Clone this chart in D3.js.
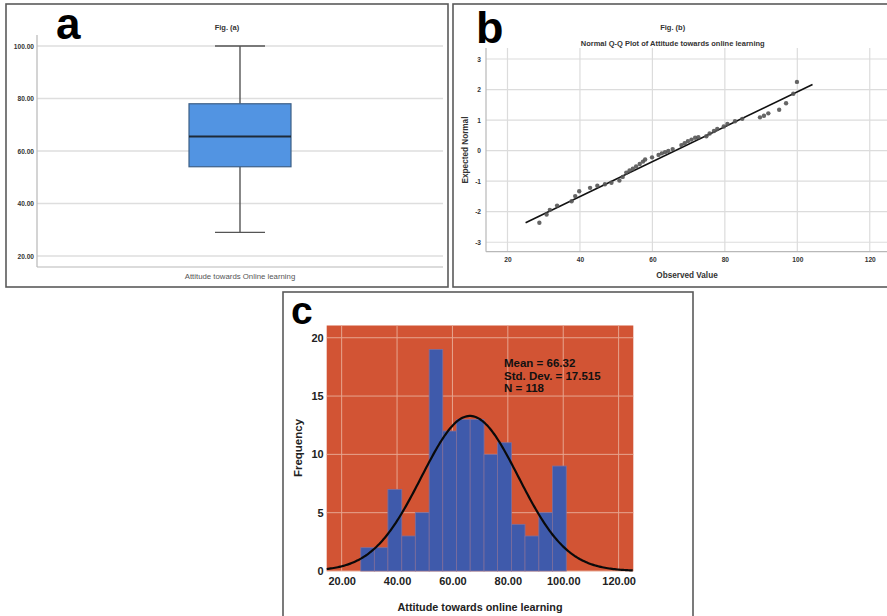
<!DOCTYPE html>
<html>
<head>
<meta charset="utf-8">
<script src="https://cdn.jsdelivr.net/npm/d3@7"></script>
<style>
  body { margin: 0; background: #fff; }
  text { font-family: "Liberation Sans", Arial, sans-serif; }
</style>
</head>
<body>
<div class="chart"></div>
<script>
// ---- data ----
// (a) box plot
const boxCategory = ["Attitude towards Online learning"]
const boxValues = [29, 54, 65.5, 78, 100]   // min, q1, median, q3, max
const boxTicks = [20, 40, 60, 80, 100]

// (b) normal Q-Q plot
const qqObserved = [28.8, 30.8, 31.7, 33.7, 37.7, 38.7, 39.8, 42.8, 44.8, 46.9, 48.7, 50.9, 51.8,
  52.8, 53.7, 54.6, 55.5, 56.5, 57.4, 58, 59.9, 61.7, 62.6, 63.5, 64.4, 65.6, 68, 68.9, 69.8,
  70.8, 71.8, 72.7, 74.9, 75.8, 77, 77.9, 79.7, 80.7, 82.8, 84.8, 89.7, 90.8, 92, 95, 96.9, 98.9, 99.9]
const qqExpected = [-2.36, -2.09, -1.94, -1.8, -1.66, -1.49, -1.33, -1.22, -1.15, -1.1, -1.05, -0.98, -0.86,
  -0.72, -0.65, -0.59, -0.52, -0.44, -0.36, -0.29, -0.22, -0.14, -0.09, -0.05, -0.01, 0.05, 0.18, 0.24, 0.31,
  0.36, 0.42, 0.44, 0.47, 0.56, 0.64, 0.71, 0.79, 0.87, 0.96, 1.04, 1.09, 1.14, 1.22, 1.34, 1.55, 1.86, 2.25]
const qqTicksX = [20, 40, 60, 80, 100, 120]
const qqTicksY = [-3, -2, -1, 0, 1, 2, 3]

// (c) histogram
const histEdges = [26.9, 31.8, 36.7, 41.7, 46.6, 51.6, 56.5, 61.5, 66.4, 71.4, 76.3, 81.3, 86.2, 91.2, 96.1, 101.1]
const histCounts = [2, 2, 7, 3, 5, 19, 12, 13, 13, 10, 11, 4, 3, 5, 9]
const histTicksX = [20, 40, 60, 80, 100, 120]
const histTicksY = [0, 5, 10, 15, 20]
const histMean = 66.32, histSD = 17.515, histN = 118

const W = 887, H = 616
const svg = d3.select(".chart").append("svg")
  .attr("width", W).attr("height", H)
svg.append("rect").attr("width", W).attr("height", H).attr("fill", "#fff")

const frameColor = "#5a5a5a"
const fmt2 = d3.format(".2f")

// ================= panel a =================
const ga = svg.append("g")
ga.append("rect").attr("x", 6).attr("y", 4).attr("width", 442).attr("height", 283)
  .attr("fill", "none").attr("stroke", frameColor).attr("stroke-width", 1.6)

const aY = d3.scaleLinear().domain([15.8, 104.2]).range([267, 35])
const aX = d3.scalePoint().domain(boxCategory).range([37, 443]).padding(0.5)

ga.selectAll(".agrid").data(boxTicks).enter().append("line")
  .attr("x1", 37).attr("x2", 443)
  .attr("y1", d => aY(d)).attr("y2", d => aY(d))
  .attr("stroke", "#dedede").attr("stroke-width", 1.5)

const aAxis = ga.append("g").attr("transform", "translate(37,0)")
  .call(d3.axisLeft(aY).tickValues(boxTicks).tickFormat(fmt2).tickSize(0).tickPadding(3))
aAxis.select(".domain").remove()
aAxis.selectAll("text").attr("font-size", 6.6).attr("font-weight", "bold").attr("fill", "#333")

ga.append("line").attr("x1", 37).attr("x2", 37).attr("y1", 35).attr("y2", 267)
  .attr("stroke", "#b8b8b8").attr("stroke-width", 1.2)
ga.append("line").attr("x1", 37).attr("x2", 443).attr("y1", 267).attr("y2", 267)
  .attr("stroke", "#b8b8b8").attr("stroke-width", 1.2)

const cx = aX(boxCategory[0]), halfBox = 51, halfCap = 25
ga.append("line").attr("x1", cx).attr("x2", cx)
  .attr("y1", aY(boxValues[0])).attr("y2", aY(boxValues[1]))
  .attr("stroke", "#555").attr("stroke-width", 1.4)
ga.append("line").attr("x1", cx).attr("x2", cx)
  .attr("y1", aY(boxValues[3])).attr("y2", aY(boxValues[4]))
  .attr("stroke", "#555").attr("stroke-width", 1.4)
;[boxValues[0], boxValues[4]].forEach(v => {
  ga.append("line").attr("x1", cx - halfCap).attr("x2", cx + halfCap)
    .attr("y1", aY(v)).attr("y2", aY(v))
    .attr("stroke", "#555").attr("stroke-width", 1.4)
})
ga.append("rect").attr("x", cx - halfBox).attr("y", aY(boxValues[3]))
  .attr("width", halfBox * 2).attr("height", aY(boxValues[1]) - aY(boxValues[3]))
  .attr("fill", "#5294e2").attr("stroke", "#3d5f86").attr("stroke-width", 1.2)
ga.append("line").attr("x1", cx - halfBox).attr("x2", cx + halfBox)
  .attr("y1", aY(boxValues[2])).attr("y2", aY(boxValues[2]))
  .attr("stroke", "#1e2a38").attr("stroke-width", 2)

ga.append("text").attr("x", 227).attr("y", 29.5).attr("text-anchor", "middle")
  .attr("font-size", 7.5).attr("font-weight", "bold").attr("fill", "#333").text("Fig. (a)")
ga.append("text").attr("x", cx).attr("y", 279).attr("text-anchor", "middle")
  .attr("font-size", 7.8).attr("fill", "#555").text(boxCategory[0])
ga.append("text").attr("x", 56).attr("y", 39).attr("font-size", 44)
  .attr("font-weight", "bold").attr("fill", "#000").text("a")

// ================= panel b =================
const gb = svg.append("g")
gb.append("rect").attr("x", 453).attr("y", 4).attr("width", 460).attr("height", 283)
  .attr("fill", "none").attr("stroke", frameColor).attr("stroke-width", 1.6)

const bX = d3.scaleLinear().domain([14.07, 124.76]).range([486, 887])
const bY = d3.scaleLinear().domain([-3.31, 3.36]).range([251.7, 48])

gb.selectAll(".bgx").data(qqTicksX).enter().append("line")
  .attr("x1", d => bX(d)).attr("x2", d => bX(d)).attr("y1", 48).attr("y2", 251.7)
  .attr("stroke", "#dcdcdc").attr("stroke-width", 1.2)
gb.selectAll(".bgy").data(qqTicksY).enter().append("line")
  .attr("x1", 486).attr("x2", 887).attr("y1", d => bY(d)).attr("y2", d => bY(d))
  .attr("stroke", "#dcdcdc").attr("stroke-width", 1.2)

const bxAxis = gb.append("g").attr("transform", "translate(0,251.7)")
  .call(d3.axisBottom(bX).tickValues(qqTicksX).tickSize(0).tickPadding(6))
bxAxis.select(".domain").remove()
bxAxis.selectAll("text").attr("font-size", 6.6).attr("font-weight", "bold").attr("fill", "#333")
const byAxis = gb.append("g").attr("transform", "translate(486,0)")
  .call(d3.axisLeft(bY).tickValues(qqTicksY).tickFormat(d => String(d)).tickSize(0).tickPadding(5))
byAxis.select(".domain").remove()
byAxis.selectAll("text").attr("font-size", 6.6).attr("font-weight", "bold").attr("fill", "#333")

gb.append("line").attr("x1", 486).attr("x2", 486).attr("y1", 48).attr("y2", 251.7)
  .attr("stroke", "#b8b8b8").attr("stroke-width", 1.2)
gb.append("line").attr("x1", 486).attr("x2", 887).attr("y1", 251.7).attr("y2", 251.7)
  .attr("stroke", "#b8b8b8").attr("stroke-width", 1.2)

// reference line: expected normal = (x - mean) / sd
const lineX = [25, 104.2]
gb.append("line")
  .attr("x1", bX(lineX[0])).attr("y1", bY((lineX[0] - histMean) / histSD))
  .attr("x2", bX(lineX[1])).attr("y2", bY((lineX[1] - histMean) / histSD))
  .attr("stroke", "#111").attr("stroke-width", 1.6)

gb.selectAll(".pt").data(qqObserved).enter().append("circle")
  .attr("cx", d => bX(d)).attr("cy", (d, i) => bY(qqExpected[i]))
  .attr("r", 2.2).attr("fill", "#555").attr("opacity", 0.9)

gb.append("text").attr("x", 672.7).attr("y", 29.5).attr("text-anchor", "middle")
  .attr("font-size", 7.5).attr("font-weight", "bold").attr("fill", "#333").text("Fig. (b)")
gb.append("text").attr("x", 672.7).attr("y", 46).attr("text-anchor", "middle")
  .attr("font-size", 7.5).attr("font-weight", "bold").attr("fill", "#333")
  .text("Normal Q-Q Plot of Attitude towards online learning")
gb.append("text").attr("x", 687).attr("y", 278).attr("text-anchor", "middle")
  .attr("font-size", 8.2).attr("font-weight", "bold").attr("fill", "#333").text("Observed Value")
gb.append("text").attr("transform", "translate(468,150) rotate(-90)").attr("text-anchor", "middle")
  .attr("font-size", 8.2).attr("font-weight", "bold").attr("fill", "#333").text("Expected Normal")
gb.append("text").attr("x", 476).attr("y", 43).attr("font-size", 45)
  .attr("font-weight", "bold").attr("fill", "#000").text("b")

// ================= panel c =================
const gc = svg.append("g")
gc.append("rect").attr("x", 283).attr("y", 292).attr("width", 410).attr("height", 340)
  .attr("fill", "none").attr("stroke", frameColor).attr("stroke-width", 1.6)

const cX = d3.scaleLinear().domain([14.6, 125.3]).range([326.7, 633.3])
const cY = d3.scaleLinear().domain([0, 21.05]).range([571, 325.5])

gc.append("rect").attr("x", 326.7).attr("y", 325.5).attr("width", 633.3 - 326.7).attr("height", 571 - 325.5)
  .attr("fill", "#d25434")
gc.selectAll(".cgx").data(histTicksX).enter().append("line")
  .attr("x1", d => cX(d)).attr("x2", d => cX(d)).attr("y1", 325.5).attr("y2", 571)
  .attr("stroke", "#e6a58f").attr("stroke-width", 1)
gc.selectAll(".cgy").data(histTicksY).enter().append("line")
  .attr("x1", 326.7).attr("x2", 633.3).attr("y1", d => cY(d)).attr("y2", d => cY(d))
  .attr("stroke", "#e6a58f").attr("stroke-width", 1)

gc.selectAll(".bar").data(histCounts).enter().append("rect")
  .attr("x", (d, i) => cX(histEdges[i]))
  .attr("width", (d, i) => cX(histEdges[i + 1]) - cX(histEdges[i]))
  .attr("y", d => cY(d)).attr("height", d => cY(0) - cY(d))
  .attr("fill", "#3f5aab").attr("stroke", "#7d6f9e").attr("stroke-width", 0.8)

// fitted normal curve
const binW = (histEdges[histEdges.length - 1] - histEdges[0]) / histCounts.length
const curveX = d3.range(14.6, 125.31, 0.5)
const normal = d3.line()
  .x(d => cX(d))
  .y(d => cY(histN * binW * Math.exp(-0.5 * ((d - histMean) / histSD) ** 2) / (histSD * Math.sqrt(2 * Math.PI))))
gc.append("path").datum(curveX).attr("d", normal)
  .attr("fill", "none").attr("stroke", "#0a0a0a").attr("stroke-width", 2.2)

const cxAxis = gc.append("g").attr("transform", "translate(0,571)")
  .call(d3.axisBottom(cX).tickValues(histTicksX).tickFormat(fmt2).tickSize(0).tickPadding(6))
cxAxis.select(".domain").remove()
cxAxis.selectAll("text").attr("font-size", 11).attr("font-weight", "bold").attr("fill", "#222")
const cyAxis = gc.append("g").attr("transform", "translate(326.7,0)")
  .call(d3.axisLeft(cY).tickValues(histTicksY).tickSize(0).tickPadding(3))
cyAxis.select(".domain").remove()
cyAxis.selectAll("text").attr("font-size", 11).attr("font-weight", "bold").attr("fill", "#222")

const stats = ["Mean = " + histMean.toFixed(2), "Std. Dev. = " + histSD.toFixed(3), "N = " + histN]
gc.selectAll(".stat").data(stats).enter().append("text")
  .attr("x", 504).attr("y", (d, i) => 367.3 + i * 12.2)
  .attr("font-size", 11.5).attr("font-weight", "bold").attr("fill", "#111").text(d => d)

gc.append("text").attr("transform", "translate(302,448) rotate(-90)").attr("text-anchor", "middle")
  .attr("font-size", 11.5).attr("font-weight", "bold").attr("fill", "#222").text("Frequency")
gc.append("text").attr("x", 480).attr("y", 611).attr("text-anchor", "middle")
  .attr("font-size", 10.8).attr("font-weight", "bold").attr("fill", "#222")
  .text("Attitude towards online learning")
gc.append("text").attr("x", 291).attr("y", 324).attr("font-size", 39)
  .attr("font-weight", "bold").attr("fill", "#000").text("c")
</script>
</body>
</html>
